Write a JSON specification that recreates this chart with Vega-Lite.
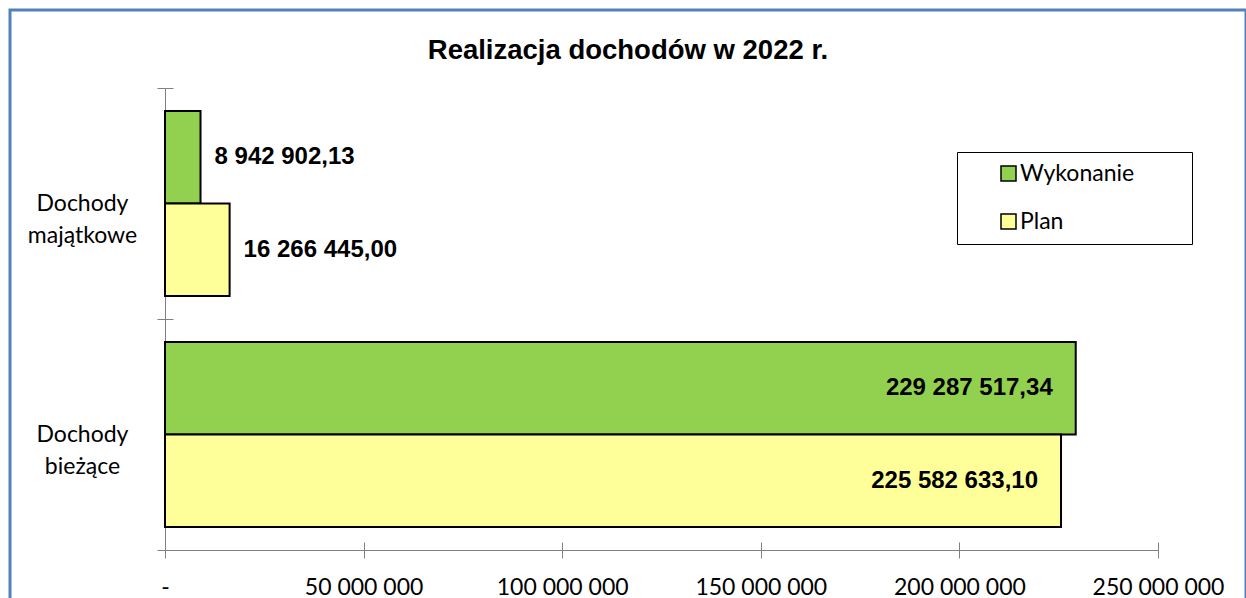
{
  "$schema": "https://vega.github.io/schema/vega-lite/v6.json",
  "width": 1236,
  "height": 605,
  "autosize": {"type": "none"},
  "padding": {"left": 10, "top": 10, "right": 0, "bottom": 0},
  "background": "white",
  "title": {
    "text": "Realizacja dochodów w 2022 r.",
    "font": "Liberation Sans",
    "fontSize": 27.5,
    "fontWeight": "bold",
    "color": "black",
    "anchor": "middle",
    "frame": "group",
    "baseline": "alphabetic",
    "offset": -49,
    "dy": 38
  },
  "data": {
    "values": [
      {"cat": "Dochody majątkowe", "series": "Wykonanie", "value": 8942902.13},
      {"cat": "Dochody majątkowe", "series": "Plan", "value": 16266445.00},
      {"cat": "Dochody bieżące", "series": "Wykonanie", "value": 229287517.34},
      {"cat": "Dochody bieżące", "series": "Plan", "value": 225582633.10}
    ]
  },
  "config": {
    "locale": {"number": {"decimal": ",", "thousands": " ", "grouping": [3], "currency": ["", ""]}},
    "view": {"stroke": "#4F81BD", "strokeWidth": 3},
    "axis": {
      "domainColor": "#808080",
      "tickColor": "#808080",
      "domainWidth": 1,
      "tickWidth": 1,
      "grid": false,
      "labelFont": "Lato",
      "labelFontSize": 23,
      "labelColor": "black"
    }
  },
  "resolve": {"axis": {"x": "independent", "y": "independent"}},
  "layer": [
    {
      "mark": {"type": "bar", "stroke": "black", "strokeWidth": 2},
      "encoding": {
        "y": {
          "field": "cat",
          "type": "nominal",
          "sort": ["Dochody majątkowe", "Dochody bieżące"],
          "scale": {"range": [78, 540], "paddingInner": 0, "paddingOuter": 0},
          "axis": {
            "orient": "left",
            "offset": -155,
            "title": null,
            "tickSize": 8,
            "tickBand": "extent",
            "labelPadding": 75,
            "labelAlign": "center",
            "labelBaseline": "middle",
            "labelExpr": "split(datum.label, ' ')",
            "labelLineHeight": 32
          }
        },
        "yOffset": {"field": "series", "type": "nominal", "sort": ["Wykonanie", "Plan"], "scale": {"paddingInner": 0, "paddingOuter": 0.2486}},
        "x": {
          "field": "value",
          "type": "quantitative",
          "scale": {"domain": [0, 250000000], "range": [155, 1148], "nice": false, "zero": true},
          "axis": {
            "orient": "bottom",
            "offset": -65,
            "title": null,
            "values": [0, 50000000, 100000000, 150000000, 200000000, 250000000],
            "format": ",d",
            "labelExpr": "datum.value == 0 ? '-' : datum.label",
            "tickSize": 8,
            "labelPadding": 18,
            "labelFlush": false
          }
        },
        "color": {
          "field": "series",
          "type": "nominal",
          "scale": {"domain": ["Wykonanie", "Plan"], "range": ["#92D050", "#FFFF99"]},
          "legend": {
            "orient": "none",
            "legendX": 947,
            "legendY": 142,
            "title": null,
            "strokeColor": "black",
            "fillColor": "white",
            "padding": 10,
            "symbolType": "square",
            "symbolSize": 225,
            "symbolStrokeColor": "black",
            "symbolStrokeWidth": 1.5,
            "symbolOpacity": 1,
            "symbolOffset": 30,
            "labelOffset": 0,
            "labelFont": "Lato",
            "labelFontSize": 23,
            "labelColor": "black",
            "rowPadding": 24,
            "labelLimit": 300,
            "labelExpr": "datum.label + '\u00a0\u00a0\u00a0\u00a0\u00a0\u00a0\u00a0\u00a0\u200b'"
          }
        }
      }
    },
    {
      "transform": [{"filter": "datum.value < 100000000"}],
      "mark": {"type": "text", "align": "left", "baseline": "middle", "dx": 14, "font": "Liberation Sans", "fontSize": 24, "fontWeight": "bold", "color": "black"},
      "encoding": {
        "y": {
          "field": "cat",
          "type": "nominal",
          "sort": ["Dochody majątkowe", "Dochody bieżące"],
          "axis": {"orient": "left", "offset": -155, "title": null, "tickSize": -8, "tickBand": "extent", "labels": false, "domain": false}
        },
        "yOffset": {"field": "series", "type": "nominal", "sort": ["Wykonanie", "Plan"]},
        "x": {
          "field": "value",
          "type": "quantitative",
          "axis": {"orient": "bottom", "offset": -65, "title": null, "values": [0, 50000000, 100000000, 150000000, 200000000, 250000000], "tickSize": -8, "labels": false, "domain": false}
        },
        "text": {"field": "value", "type": "quantitative", "format": ",.2f"}
      }
    },
    {
      "transform": [{"filter": "datum.value >= 100000000"}],
      "mark": {"type": "text", "align": "right", "baseline": "middle", "dx": -23, "font": "Liberation Sans", "fontSize": 24, "fontWeight": "bold", "color": "black"},
      "encoding": {
        "y": {"field": "cat", "type": "nominal", "sort": ["Dochody majątkowe", "Dochody bieżące"], "axis": null},
        "yOffset": {"field": "series", "type": "nominal", "sort": ["Wykonanie", "Plan"]},
        "x": {"field": "value", "type": "quantitative", "axis": null},
        "text": {"field": "value", "type": "quantitative", "format": ",.2f"}
      }
    }
  ]
}
